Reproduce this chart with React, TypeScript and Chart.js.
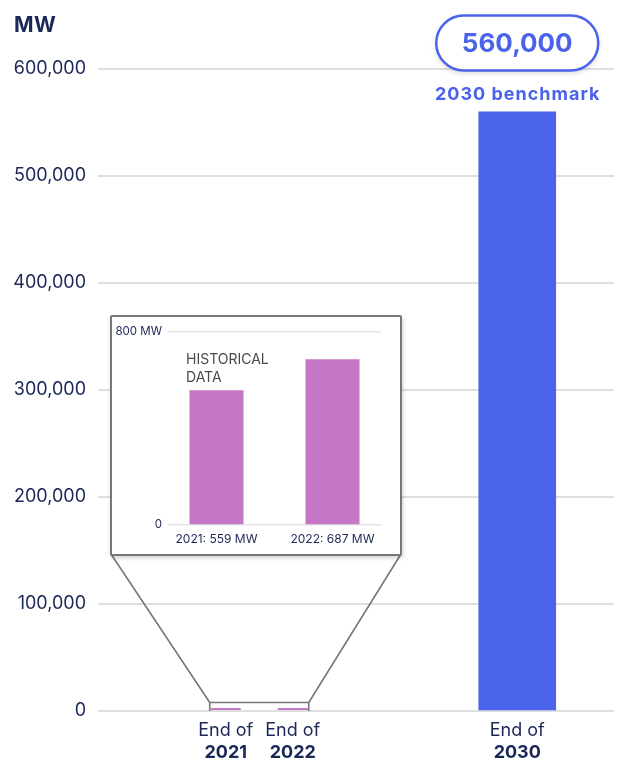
import React, { useEffect, useRef } from "react";
import { Chart, registerables } from "chart.js";

Chart.register(...registerables);

// ---------- data ----------
const categoryPrefix = "End of";
const categoryYears = ["2021", "2022", "2030"];
const capacityMW = [559, 687, 560000];
const benchmarkLabel = "2030 benchmark";
const axisUnit = "MW";
const mainYMax = 600000;
const mainYStep = 100000;
const insetYMax = 800;
const insetTitleLines = ["HISTORICAL", "DATA"];

// ---------- styling / layout ----------
const FONT = "Inter, 'Open Sans', sans-serif";
const NAVY = "#1b2757";
const BLUE = "#4a63ea";
const ORCHID = "#c576c4";
const GRID = "#dfdfdf";
const FRAME = "#777777";
const W = 618;
const H = 760;
const INSET = { left: 110, top: 315, width: 292, height: 241 };
const SLOTS = 8;
const HIST_SLOT = 2;
const BENCH_SLOT = 6;

const slotData = (slot: number, v: number) =>
  Array.from({ length: SLOTS }, (_, i) => (i === slot ? v : null));

function text(
  ctx: CanvasRenderingContext2D,
  s: string,
  x: number,
  y: number,
  font: string,
  color: string,
  align: CanvasTextAlign = "center",
  spacing = 0
) {
  ctx.save();
  ctx.font = font;
  ctx.fillStyle = color;
  ctx.textAlign = align;
  ctx.textBaseline = "middle";
  if (spacing) {
    (ctx as any).letterSpacing = `${spacing}px`;
    if (align === "center") x += spacing / 2;
  }
  ctx.fillText(s, x, y);
  ctx.restore();
}

function pill(ctx: CanvasRenderingContext2D, cx: number, cy: number, w: number, h: number) {
  const r = h / 2;
  const x0 = cx - w / 2;
  const x1 = cx + w / 2;
  const y0 = cy - h / 2;
  const y1 = cy + h / 2;
  ctx.beginPath();
  ctx.moveTo(x0 + r, y0);
  ctx.lineTo(x1 - r, y0);
  ctx.arc(x1 - r, cy, r, -Math.PI / 2, Math.PI / 2);
  ctx.lineTo(x0 + r, y1);
  ctx.arc(x0 + r, cy, r, Math.PI / 2, (3 * Math.PI) / 2);
  ctx.closePath();
}

const mainOverlay = {
  id: "mainOverlay",
  afterDraw(chart: any) {
    const ctx: CanvasRenderingContext2D = chart.ctx;
    const bars = [
      chart.getDatasetMeta(0).data[HIST_SLOT],
      chart.getDatasetMeta(1).data[HIST_SLOT],
      chart.getDatasetMeta(2).data[BENCH_SLOT],
    ];
    // unit label
    text(ctx, axisUnit, 14, 26, `bold 21px ${FONT}`, NAVY, "left", 0.5);

    // category labels
    bars.forEach((b: any, i: number) => {
      text(ctx, categoryPrefix, b.x, 731, `18px ${FONT}`, NAVY);
      text(ctx, categoryYears[i], b.x, 753, `bold 18px ${FONT}`, NAVY);
    });

    // benchmark pill
    const bb: any = bars[2];
    ctx.save();
    ctx.shadowColor = "rgba(0,0,0,0.18)";
    ctx.shadowBlur = 6;
    ctx.shadowOffsetY = 2;
    pill(ctx, bb.x, 43, 162, 55);
    ctx.fillStyle = "#fff";
    ctx.fill();
    ctx.restore();
    ctx.save();
    pill(ctx, bb.x, 43, 162, 55);
    ctx.lineWidth = 2.5;
    ctx.strokeStyle = BLUE;
    ctx.stroke();
    ctx.restore();
    text(ctx, capacityMW[2].toLocaleString("en-US"), bb.x, 44, `bold 26px ${FONT}`, BLUE);
    text(ctx, benchmarkLabel, bb.x, 95, `bold 18px ${FONT}`, BLUE, "center", 1);

    // zoom connector
    const b0: any = bars[0];
    const b1: any = bars[1];
    const base = chart.scales.y.getPixelForValue(0);
    const rl = b0.x - b0.width / 2 - 1;
    const rr = b1.x + b1.width / 2 + 1;
    const rt = base - 8.5;
    ctx.save();
    ctx.strokeStyle = FRAME;
    ctx.lineWidth = 1.6;
    ctx.beginPath();
    ctx.moveTo(rl, base);
    ctx.lineTo(rl, rt);
    ctx.lineTo(rr, rt);
    ctx.lineTo(rr, base);
    ctx.stroke();
    ctx.beginPath();
    ctx.moveTo(INSET.left + 1, INSET.top + INSET.height - 2);
    ctx.lineTo(rl, rt);
    ctx.moveTo(INSET.left + INSET.width - 1, INSET.top + INSET.height - 2);
    ctx.lineTo(rr, rt);
    ctx.stroke();
    ctx.restore();
  },
};

const insetOverlay = {
  id: "insetOverlay",
  afterDraw(chart: any) {
    const ctx: CanvasRenderingContext2D = chart.ctx;
    [0, 1].forEach((k) => {
      const b: any = chart.getDatasetMeta(k).data[0];
      text(ctx, `${categoryYears[k]}: ${capacityMW[k]} MW`, b.x, 222, `12px ${FONT}`, NAVY);
    });
    insetTitleLines.forEach((s, i) => {
      text(ctx, s, 74, 43 + i * 18, `14px ${FONT}`, "#4a4a4a", "left");
    });
  },
};

export default function App() {
  const mainRef = useRef<HTMLCanvasElement>(null);
  const insetRef = useRef<HTMLCanvasElement>(null);

  useEffect(() => {
    const prevMargin = document.body.style.margin;
    const prevOverflow = document.body.style.overflow;
    document.body.style.margin = "0";
    document.body.style.overflow = "hidden";

    const main = new Chart(mainRef.current!, {
      type: "bar",
      data: {
        labels: Array.from({ length: SLOTS }, (_, i) =>
          i === HIST_SLOT
            ? `${categoryPrefix} ${categoryYears[0]} / ${categoryYears[1]}`
            : i === BENCH_SLOT
            ? `${categoryPrefix} ${categoryYears[2]}`
            : ""
        ),
        datasets: [
          {
            label: `${categoryPrefix} ${categoryYears[0]}`,
            data: slotData(HIST_SLOT, capacityMW[0]),
            backgroundColor: ORCHID,
            categoryPercentage: 2.078,
            barPercentage: 0.448,
            minBarLength: 3,
            skipNull: true,
          },
          {
            label: `${categoryPrefix} ${categoryYears[1]}`,
            data: slotData(HIST_SLOT, capacityMW[1]),
            backgroundColor: ORCHID,
            categoryPercentage: 2.078,
            barPercentage: 0.448,
            minBarLength: 3,
            skipNull: true,
          },
          {
            label: `${categoryPrefix} ${categoryYears[2]}`,
            data: slotData(BENCH_SLOT, capacityMW[2]),
            backgroundColor: BLUE,
            barThickness: 77,
            skipNull: true,
          },
        ] as any,
      },
      options: {
        responsive: false,
        animation: false,
        events: [],
        layout: { padding: { top: 69, right: 4, bottom: 49, left: 0 } },
        plugins: { legend: { display: false }, tooltip: { enabled: false } },
        scales: {
          x: { display: false, offset: true },
          y: {
            min: 0,
            max: mainYMax,
            afterFit: (s: any) => {
              s.width = 98;
            },
            border: { display: false },
            grid: { color: GRID, lineWidth: 2, drawTicks: false },
            ticks: {
              stepSize: mainYStep,
              padding: 12,
              color: NAVY,
              font: { family: FONT, size: 18 },
              callback: (v: any) => Number(v).toLocaleString("en-US"),
            },
          },
        },
      } as any,
      plugins: [mainOverlay],
    });

    const inset = new Chart(insetRef.current!, {
      type: "bar",
      data: {
        labels: ["historical"],
        datasets: [0, 1].map((k) => ({
          label: `${categoryYears[k]}: ${capacityMW[k]} MW`,
          data: [capacityMW[k]],
          backgroundColor: ORCHID,
          categoryPercentage: 1.089,
          barPercentage: 0.466,
        })),
      },
      options: {
        responsive: false,
        animation: false,
        events: [],
        layout: { padding: { top: 15, right: 19, bottom: 29, left: 0 } },
        plugins: { legend: { display: false }, tooltip: { enabled: false } },
        scales: {
          x: { display: false, offset: true },
          y: {
            min: 0,
            max: insetYMax,
            afterFit: (s: any) => {
              s.width = 56;
            },
            border: { display: false },
            grid: { color: "#e4e4ea", lineWidth: 1.5, drawTicks: false },
            ticks: {
              stepSize: insetYMax,
              padding: 6,
              color: NAVY,
              font: { family: FONT, size: 11.5 },
              callback: (v: any) => (Number(v) === 0 ? "0" : `${v} ${axisUnit}`),
            },
          },
        },
      } as any,
      plugins: [insetOverlay],
    });

    return () => {
      main.destroy();
      inset.destroy();
      document.body.style.margin = prevMargin;
      document.body.style.overflow = prevOverflow;
    };
  }, []);

  return (
    <div style={{ position: "relative", width: W, height: H, background: "#fff" }}>
      <canvas
        ref={mainRef}
        width={W}
        height={H}
        style={{ position: "absolute", left: 0, top: 0 }}
      />
      <div
        style={{
          position: "absolute",
          left: INSET.left,
          top: INSET.top,
          width: INSET.width,
          height: INSET.height,
          boxSizing: "border-box",
          border: `2px solid ${FRAME}`,
          borderRadius: 2,
          background: "#fff",
          boxShadow: "1px 2px 4px rgba(0,0,0,0.18)",
        }}
      >
        <canvas ref={insetRef} width={288} height={237} style={{ display: "block" }} />
      </div>
    </div>
  );
}
